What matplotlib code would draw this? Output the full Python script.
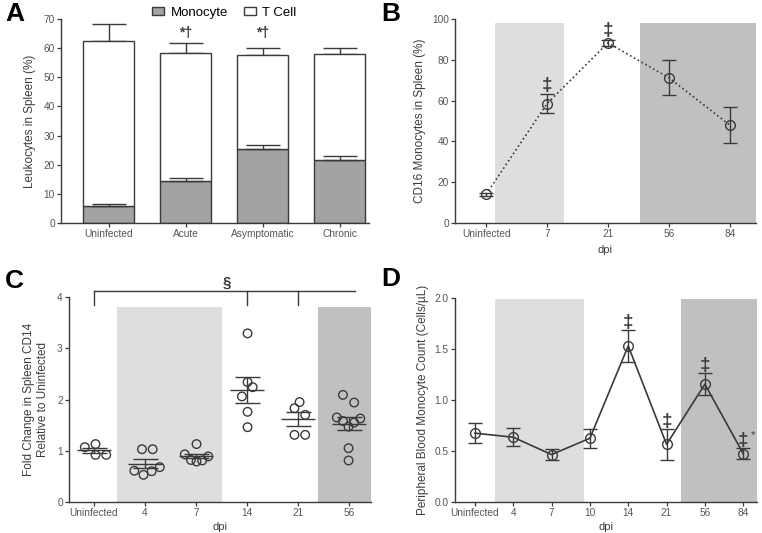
import matplotlib
matplotlib.use("Agg")
import matplotlib.pyplot as plt
from matplotlib.patches import Patch
import numpy as np

plt.rcParams['font.family'] = ['Liberation Sans', 'DejaVu Sans']
plt.rcParams['font.size'] = 8

# ---------------- data ----------------
# Panel A
a_cats = ["Uninfected", "Acute", "Asymptomatic", "Chronic"]
a_mono = [5.8, 14.5, 25.5, 21.6]
a_mono_err = [0.8, 0.9, 1.1, 1.5]
a_tcell = [56.8, 43.7, 32.2, 36.3]
a_total_err = [5.7, 3.7, 2.2, 2.2]
a_marks = ["", "*†", "*†", ""]

# Panel B
b_cats = ["Uninfected", "7", "21", "56", "84"]
b_mean = [14.0, 58.5, 88.3, 71.2, 48.0]
b_err = [0.8, 4.5, 1.5, 8.5, 8.8]
b_marks = ["", "‡", "‡", "", ""]

# Panel C
c_cats = ["Uninfected", "4", "7", "14", "21", "56"]
c_points = [
    [1.07, 1.13, 0.92, 0.92],
    [1.03, 1.03, 0.61, 0.53, 0.60, 0.68],
    [1.13, 0.93, 0.82, 0.79, 0.81, 0.89],
    [3.29, 2.34, 2.24, 2.06, 1.76, 1.46],
    [1.95, 1.83, 1.70, 1.31, 1.31],
    [2.09, 1.94, 1.65, 1.58, 1.47, 1.55, 1.63, 1.05, 0.81],
]
c_jitter = [
    [-0.18, 0.03, 0.03, 0.24],
    [-0.06, 0.15, -0.21, -0.03, 0.13, 0.29],
    [0.01, -0.22, -0.10, 0.01, 0.12, 0.24],
    [0.01, 0.01, 0.11, -0.10, 0.01, 0.01],
    [0.03, -0.07, 0.14, -0.07, 0.14],
    [-0.12, 0.10, -0.24, -0.12, -0.01, 0.10, 0.22, -0.01, -0.01],
]
c_mean = [1.01, 0.75, 0.89, 2.19, 1.62, 1.53]
c_sem = [0.05, 0.09, 0.04, 0.25, 0.13, 0.13]

# Panel D
d_cats = ["Uninfected", "4", "7", "10", "14", "21", "56", "84"]
d_mean = [0.675, 0.635, 0.465, 0.625, 1.53, 0.565, 1.155, 0.475]
d_err = [0.10, 0.09, 0.05, 0.095, 0.155, 0.15, 0.105, 0.055]
d_marks = ["", "", "", "", "‡", "‡", "‡", "‡"]

# ---------------- style ----------------
EDGE = "#3a3a3a"
TXT = "#3c3c3c"
TICKTXT = "#555555"
LIGHT = "#dedede"
DARK = "#c0c0c0"
MONO = "#a3a3a3"
TICKSIZE = 7.3

fig = plt.figure(figsize=(7.62, 5.33), dpi=100)


def style_ax(ax):
    for s in ["top", "right"]:
        ax.spines[s].set_visible(False)
    for s in ["left", "bottom"]:
        ax.spines[s].set_color(EDGE)
        ax.spines[s].set_linewidth(1.0)
    ax.tick_params(colors=EDGE, labelcolor=TICKTXT, length=3, width=0.9,
                   labelsize=TICKSIZE, pad=1.5)


# ---------------- Panel A ----------------
axA = fig.add_axes([61/762, 1-223/533, 308/762, 204/533])
style_ax(axA)
xa = np.arange(len(a_cats))
bw = 0.66
total = np.array(a_mono) + np.array(a_tcell)
axA.errorbar(xa, total, yerr=[np.zeros(len(xa)), a_total_err], fmt='none',
             ecolor=EDGE, elinewidth=1.0, capsize=12, capthick=1.0, zorder=1)
axA.bar(xa, a_mono, width=bw, color=MONO, edgecolor=EDGE, linewidth=1.0, zorder=2)
axA.bar(xa, a_tcell, bottom=a_mono, width=bw, color="white", edgecolor=EDGE,
        linewidth=1.0, zorder=2)
axA.errorbar(xa, a_mono, yerr=[np.zeros(len(xa)), a_mono_err], fmt='none',
             ecolor=EDGE, elinewidth=1.0, capsize=12, capthick=1.0, zorder=3)
for i, m in enumerate(a_marks):
    if m:
        axA.text(xa[i], 65.2, m, ha='center', va='center', fontsize=10,
                 color=TXT, fontweight='bold')
axA.set_xlim(-0.62, 3.38)
axA.set_ylim(0, 70)
axA.set_yticks(np.arange(0, 71, 10))
axA.set_xticks(xa)
axA.set_xticklabels(a_cats)
axA.set_ylabel("Leukocytes in Spleen (%)", color=TXT, fontsize=8.5, labelpad=5)
axA.legend(handles=[Patch(facecolor=MONO, edgecolor=EDGE, label="Monocyte"),
                    Patch(facecolor="white", edgecolor=EDGE, label="T Cell")],
           loc='lower center', bbox_to_anchor=(0.53, 0.995), ncol=2, frameon=False,
           fontsize=9.5, handlelength=0.9, handleheight=0.5, columnspacing=1.2,
           handletextpad=0.5, borderaxespad=0.0, borderpad=0.1)
fig.text(5/762, 1-14/533, "A", fontsize=19, fontweight='bold', va='center', ha='left')

# ---------------- Panel B ----------------
axB = fig.add_axes([455/762, 1-223/533, 301/762, 204/533])
style_ax(axB)
xb = np.arange(len(b_cats))
axB.axvspan(0.15, 1.28, ymax=0.98, color=LIGHT, lw=0, zorder=0)
axB.axvspan(2.52, 4.43, ymax=0.98, color=DARK, lw=0, zorder=0)
axB.errorbar(xb, b_mean, yerr=b_err, fmt='o', ls=':', color=EDGE, lw=1.2,
             mfc='none', mec=EDGE, ms=7, mew=1.0, capsize=5, capthick=1.0,
             elinewidth=1.0, zorder=3)
for i, m in enumerate(b_marks):
    if m:
        axB.text(xb[i], b_mean[i] + b_err[i] + 0.2, m, ha='center', va='bottom',
                 fontsize=13.5, color=TXT, fontweight='bold')
axB.set_xlim(-0.51, 4.43)
axB.set_ylim(0, 100)
axB.set_yticks(np.arange(0, 101, 20))
axB.set_xticks(xb)
axB.set_xticklabels(b_cats)
axB.set_xlabel("dpi", color=TXT, fontsize=8, labelpad=4)
axB.set_ylabel("CD16 Monocytes in Spleen (%)", color=TXT, fontsize=8.5, labelpad=4)
fig.text(381/762, 1-14/533, "B", fontsize=19, fontweight='bold', va='center', ha='left')

# ---------------- Panel C ----------------
axC = fig.add_axes([69/762, 1-502/533, 302/762, 205/533])
style_ax(axC)
xc = np.arange(len(c_cats))
axC.axvspan(0.45, 2.51, ymax=0.95, color=LIGHT, lw=0, zorder=0)
axC.axvspan(4.39, 5.45, ymax=0.95, color=DARK, lw=0, zorder=0)
for i in range(len(c_cats)):
    px = xc[i] + np.array(c_jitter[i])
    axC.scatter(px, c_points[i], s=38, facecolors='none', edgecolors=EDGE,
                linewidths=1.0, zorder=3)
    axC.hlines(c_mean[i], xc[i] - 0.33, xc[i] + 0.33, color=EDGE, lw=1.0, zorder=4)
    axC.errorbar(xc[i], c_mean[i], yerr=c_sem[i], fmt='none', ecolor=EDGE,
                 elinewidth=1.0, capsize=9, capthick=1.0, zorder=4)
# significance bracket
br_y, br_drop = 4.12, 3.84
axC.plot([0, 5.12], [br_y, br_y], color=EDGE, lw=1.0, clip_on=False)
for xx in [0, 3, 4]:
    axC.plot([xx, xx], [br_y, br_drop], color=EDGE, lw=1.0, clip_on=False)
axC.text(2.6, 4.27, "§", ha='center', va='center', fontsize=11, color=TXT,
         fontweight='bold')
axC.set_xlim(-0.49, 5.43)
axC.set_ylim(0, 4)
axC.set_yticks(np.arange(0, 5, 1))
axC.set_xticks(xc)
axC.set_xticklabels(c_cats)
axC.set_xlabel("dpi", color=TXT, fontsize=8, labelpad=3)
axC.set_ylabel("Fold Change in Spleen CD14\nRelative to Uninfected", color=TXT,
               fontsize=8.5, labelpad=6)
fig.text(5/762, 1-281/533, "C", fontsize=19, fontweight='bold', va='center', ha='left')

# ---------------- Panel D ----------------
axD = fig.add_axes([455/762, 1-502/533, 302/762, 204/533])
style_ax(axD)
xd = np.arange(len(d_cats))
axD.axvspan(0.52, 2.85, ymax=0.995, color=LIGHT, lw=0, zorder=0)
axD.axvspan(5.38, 7.36, ymax=0.995, color=DARK, lw=0, zorder=0)
axD.errorbar(xd, d_mean, yerr=d_err, fmt='o', ls='-', color=EDGE, lw=1.2,
             mfc='none', mec=EDGE, ms=7, mew=1.0, capsize=5, capthick=1.0,
             elinewidth=1.0, zorder=3)
for i, m in enumerate(d_marks):
    if m:
        axD.text(xd[i], d_mean[i] + d_err[i] - 0.01, m, ha='center', va='bottom',
                 fontsize=13.5, color=TXT, fontweight='bold')
axD.text(xd[7] + 0.2, d_mean[7] + d_err[7] + 0.13, "*", ha='left', va='center',
         fontsize=8, color=TXT)
axD.set_xlim(-0.52, 7.36)
axD.set_ylim(0, 2.0)
axD.set_yticks(np.arange(0, 2.01, 0.5))
axD.set_yticklabels(["0.0", "0.5", "1.0", "1.5", "2.0"])
axD.set_xticks(xd)
axD.set_xticklabels(d_cats)
axD.set_xlabel("dpi", color=TXT, fontsize=8, labelpad=3)
axD.set_ylabel("Peripheral Blood Monocyte Count (Cells/µL)", color=TXT,
               fontsize=8.5, labelpad=4)
fig.text(381/762, 1-279/533, "D", fontsize=19, fontweight='bold', va='center', ha='left')

fig.savefig("out.png", dpi=100)
